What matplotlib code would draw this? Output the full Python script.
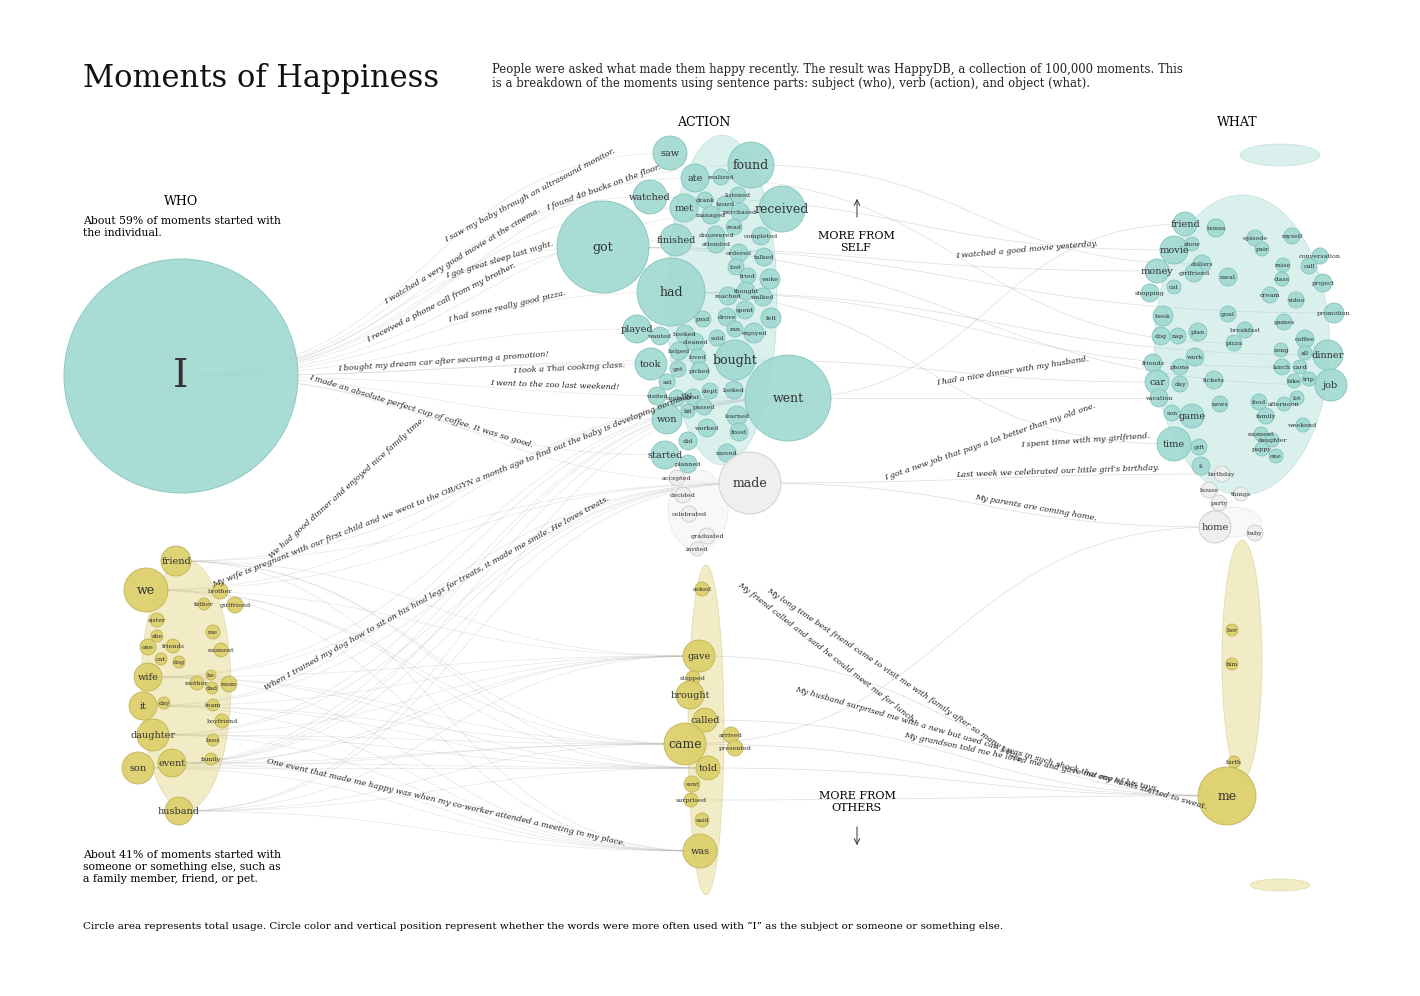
import matplotlib.pyplot as plt
from matplotlib.patches import Circle, Ellipse
import numpy as np

# ---- data (x, y in px of the 1420x996 layout, r = radius px, tone t/w/y) ----
who_words = ['I', 'friend', 'we', 'brother', 'father', 'girlfriend', 'sister', 'she', 'me', 'one',
             'friends', 'moment', 'cat', 'dog', 'wife', 'he', 'mother', 'dad', 'mom', 'day', 'it',
             'team', 'boyfriend', 'daughter', 'boss', 'family', 'event', 'son', 'husband']
who_x = [181, 176, 146, 220, 204, 235, 157, 157, 213, 148, 173, 221, 161, 179, 148, 211, 197, 212, 229,
         164, 143, 213, 222, 153, 213, 211, 172, 138, 179]
who_y = [376, 561, 590, 591, 604, 605, 620, 636, 632, 647, 646, 650, 659, 662, 677, 675, 683, 688, 684,
         703, 706, 705, 721, 735, 740, 759, 763, 768, 811]
who_r = [117, 15, 22, 8, 6, 8, 7, 6, 7, 8, 7, 7, 6, 6, 14, 5, 7, 6, 8, 6, 14, 6, 7, 16, 6, 6, 14, 16, 14]
who_tone = ['t'] + ['y'] * 28

act_words = ['saw', 'found', 'ate', 'realized', 'watched', 'drank', 'listened', 'met', 'heard', 'purchased',
             'received', 'managed', 'got', 'read', 'finished', 'discovered', 'completed', 'attended',
             'ordered', 'talked', 'had', 'lost', 'tried', 'woke', 'thought', 'reached', 'walked', 'spent',
             'paid', 'drove', 'felt', 'played', 'wanted', 'booked', 'sold', 'ran', 'enjoyed', 'cleaned',
             'helped', 'loved', 'bought', 'took', 'get', 'picked', 'sat', 'slept', 'looked', 'visited',
             'cooked', 'beat', 'went', 'passed', 'hit', 'won', 'learned', 'worked', 'fixed', 'did', 'moved',
             'started', 'planned', 'made', 'accepted', 'decided', 'celebrated', 'graduated', 'invited',
             'asked', 'gave', 'stopped', 'brought', 'called', 'arrived', 'came', 'presented', 'told',
             'sent', 'surprised', 'said', 'was']
act_x = [670, 751, 695, 721, 650, 705, 738, 684, 725, 740, 782, 711, 603, 734, 676, 716, 761, 716, 739, 764,
         671, 736, 748, 770, 746, 728, 763, 745, 703, 727, 771, 637, 660, 685, 717, 735, 754, 695, 679, 698,
         735, 651, 678, 700, 667, 710, 734, 657, 677, 693, 788, 704, 688, 667, 737, 707, 739, 688, 727, 665,
         688, 750, 677, 683, 689, 707, 697, 702, 699, 693, 690, 705, 731, 685, 735, 708, 692, 691, 702, 700]
act_y = [153, 165, 178, 177, 197, 200, 195, 208, 204, 212, 209, 215, 247, 227, 240, 235, 236, 244, 253, 257,
         292, 267, 276, 279, 291, 296, 297, 310, 319, 317, 318, 329, 336, 334, 338, 329, 333, 342, 351, 357,
         360, 364, 369, 371, 382, 391, 390, 396, 398, 397, 398, 407, 411, 419, 416, 428, 432, 441, 453, 455,
         464, 483, 478, 495, 514, 536, 549, 589, 656, 678, 695, 720, 735, 744, 748, 768, 784, 800, 820, 851]
act_r = [17, 23, 14, 8, 17, 8, 8, 14, 8, 9, 23, 9, 46, 8, 16, 9, 9, 9, 9, 9,
         34, 8, 8, 10, 9, 9, 9, 9, 8, 9, 10, 14, 9, 9, 8, 8, 10, 9, 9, 8,
         20, 16, 8, 9, 8, 8, 9, 9, 8, 8, 43, 8, 7, 15, 10, 9, 9, 9, 9, 14,
         9, 31, 8, 8, 8, 8, 7, 7, 16, 7, 14, 12, 8, 21, 8, 12, 8, 7, 7, 17]
act_tone = ['t'] * 61 + ['w'] * 6 + ['y'] * 13

what_words = ['friend', 'bonus', 'episode', 'myself', 'movie', 'show', 'pair', 'conversation', 'dollars',
              'call', 'girlfriend', 'money', 'meal', 'raise', 'class', 'project', 'cat', 'cream', 'shopping',
              'video', 'book', 'goal', 'promotion', 'games', 'dog', 'nap', 'plan', 'breakfast', 'coffee',
              'pizza', 'song', 'all', 'dinner', 'friends', 'work', 'phone', 'lunch', 'card', 'car', 'day',
              'tickets', 'bike', 'trip', 'job', 'vacation', 'lot', 'news', 'food', 'afternoon', 'son', 'game',
              'family', 'weekend', 'moment', 'daughter', 'time', 'puppy', 'gift', 'one', 'it', 'birthday',
              'house', 'things', 'party', 'home', 'baby', 'her', 'him', 'birth', 'me']
what_x = [1185, 1216, 1255, 1292, 1174, 1192, 1262, 1320, 1202, 1309, 1194, 1157, 1228, 1283, 1282, 1323,
          1174, 1270, 1150, 1296, 1163, 1228, 1334, 1284, 1161, 1178, 1198, 1245, 1305, 1234, 1281, 1305,
          1328, 1153, 1195, 1180, 1282, 1300, 1157, 1180, 1214, 1294, 1309, 1331, 1159, 1297, 1220, 1259,
          1284, 1172, 1192, 1266, 1303, 1261, 1272, 1174, 1262, 1199, 1276, 1201, 1222, 1209, 1241, 1219,
          1215, 1255, 1232, 1232, 1234, 1227]
what_y = [224, 228, 238, 236, 250, 244, 249, 256, 264, 266, 273, 271, 277, 265, 279, 283, 287, 295, 293, 300,
          316, 314, 313, 322, 336, 336, 332, 330, 339, 343, 350, 353, 355, 363, 357, 367, 367, 367, 382, 384,
          380, 381, 379, 385, 398, 398, 404, 402, 404, 413, 416, 416, 425, 434, 440, 444, 449, 447, 456, 466,
          474, 490, 494, 503, 527, 533, 630, 664, 762, 796]
what_r = [12, 9, 8, 8, 14, 7, 7, 8, 9, 8, 9, 12, 9, 7, 7, 9, 7, 8, 9, 8, 10, 8, 10, 8, 9, 8, 9, 8, 9, 8,
          7, 7, 15, 9, 9, 8, 8, 7, 12, 8, 9, 7, 7, 16, 9, 7, 8, 8, 7, 8, 12, 8, 7, 7, 7, 17, 7, 8, 7, 9,
          8, 8, 7, 8, 16, 8, 6, 6, 6, 29]
what_tone = ['t'] * 60 + ['w'] * 6 + ['y'] * 4

# unlabeled masses of small circles: x, y, width, height, tone
mass_x = [722, 698, 706, 1242, 1280, 1232, 1242, 186, 1280]
mass_y = [300, 510, 730, 345, 155, 522, 660, 685, 885]
mass_w = [110, 60, 36, 175, 80, 60, 40, 90, 60]
mass_h = [330, 80, 330, 300, 22, 30, 240, 250, 12]
mass_tone = ['t', 'w', 'y', 't', 't', 'w', 'y', 'y', 'y']

# links: who -> action, action -> what
links_a = [('I', w) for w in ['saw', 'found', 'watched', 'got', 'received', 'had', 'bought', 'took',
                              'went', 'made', 'won', 'started', 'ate', 'met', 'finished', 'played']] + \
          [(s, t) for s in ['we', 'wife', 'son', 'husband', 'event', 'daughter', 'it', 'friend']
           for t in ['came', 'gave', 'was', 'told', 'made', 'went']]
links_b = [('watched', 'movie'), ('had', 'dinner'), ('got', 'job'), ('had', 'time'), ('made', 'birthday'),
           ('came', 'home'), ('came', 'me'), ('called', 'me'), ('told', 'me'), ('surprised', 'me'),
           ('went', 'friend'), ('got', 'money'), ('bought', 'car'), ('found', 'dollars'), ('got', 'promotion'),
           ('ate', 'pizza'), ('went', 'vacation'), ('made', 'home'), ('had', 'lunch'), ('gave', 'me')]

quotes = ["I saw my baby through an ultrasound monitor.", "I watched a very good movie at the cinema.",
          "I found 40 bucks on the floor.", "I got great sleep last night.",
          "I received a phone call from my brother.", "I had some really good pizza.",
          "I bought my dream car after securing a promotion!", "I took a Thai cooking class.",
          "I went to the zoo last weekend!", "I made an absolute perfect cup of coffee. It was so good.",
          "We had good dinner and enjoyed nice family time.",
          "My wife is pregnant with our first child and we went to the OB/GYN a month ago to find out the baby is developing normally.",
          "When I trained my dog how to sit on his hind legs for treats, it made me smile. He loves treats.",
          "One event that made me happy was when my co-worker attended a meeting in my place.",
          "I watched a good movie yesterday.", "I had a nice dinner with my husband.",
          "I got a new job that pays a lot better than my old one.", "I spent time with my girlfriend.",
          "Last week we celebrated our little girl's birthday.", "My parents are coming home.",
          "My long time best friend came to visit me with family after so many years.",
          "My friend called and said he could meet me for lunch.",
          "My grandson told me he loved me and gave me one of his toys.",
          "My husband surprised me with a new but used car. I was in such shock that my hands started to sweat."]
quote_x = [530, 462, 604, 500, 441, 507, 443, 569, 555, 421, 347, 453, 437, 446, 1027, 1013, 990, 1086, 1058,
           1036, 895, 827, 1031, 1001]
quote_y = [195, 256, 188, 260, 303, 307, 362, 368, 385, 411, 488, 490, 593, 802, 250, 371, 442, 440, 471,
           508, 676, 653, 762, 748]
quote_ang = [28, 31, 20, 17, 27, 13, 4, 3, -2, -17, 42, 21.7, 29, -13, 5, 9, 19, 4, 2, -10, -34, -38, -12, -16]

face = {'t': '#a3dad3', 'w': '#efefef', 'y': '#ddd06e'}
edge = {'t': '#7fc2ba', 'w': '#c8c8c8', 'y': '#bfb150'}
serif = 'DejaVu Serif'

fig = plt.figure(figsize=(14.2, 9.96), dpi=100)
ax = fig.add_axes([0, 0, 1, 1])
ax.set_xlim(0, 1420)
ax.set_ylim(996, 0)
ax.axis('off')

pos = {}
for grp, (W, X, Y) in {'who': (who_words, who_x, who_y), 'act': (act_words, act_x, act_y),
                       'what': (what_words, what_x, what_y)}.items():
    for w, x, y in zip(W, X, Y):
        pos[(grp, w)] = (x, y)


def curve(p0, p1, color, lw, alpha):
    t = np.linspace(0, 1, 60)
    c0 = ((p0[0] + p1[0]) / 2, p0[1])
    c1 = ((p0[0] + p1[0]) / 2, p1[1])
    xs = (1-t)**3*p0[0] + 3*(1-t)**2*t*c0[0] + 3*(1-t)*t**2*c1[0] + t**3*p1[0]
    ys = (1-t)**3*p0[1] + 3*(1-t)**2*t*c0[1] + 3*(1-t)*t**2*c1[1] + t**3*p1[1]
    ax.plot(xs, ys, color=color, lw=lw, alpha=alpha, zorder=1)


for s, t in links_a:
    curve(pos[('who', s)], pos[('act', t)], '#aaaaaa', 0.5, 0.3)
for s, t in links_b:
    curve(pos[('act', s)], pos[('what', t)], '#aaaaaa', 0.5, 0.4)

for x, y, w, h, tn in zip(mass_x, mass_y, mass_w, mass_h, mass_tone):
    ax.add_patch(Ellipse((x, y), w, h, facecolor=face[tn], edgecolor=edge[tn], lw=0.5, alpha=0.4, zorder=2))

for W, X, Y, R, T in [(who_words, who_x, who_y, who_r, who_tone), (act_words, act_x, act_y, act_r, act_tone),
                      (what_words, what_x, what_y, what_r, what_tone)]:
    for w, x, y, r, tn in zip(W, X, Y, R, T):
        ax.add_patch(Circle((x, y), r, facecolor=face[tn], edgecolor=edge[tn], lw=0.6, alpha=0.95, zorder=3))
        fs = 28 if r > 100 else (9 if r >= 20 else (7 if r >= 12 else 4.6))
        ax.text(x, y, w, ha='center', va='center', fontsize=fs, family=serif, color='#333333', zorder=4)

for q, x, y, a in zip(quotes, quote_x, quote_y, quote_ang):
    ax.text(x, y, q, ha='center', va='center', rotation=a, rotation_mode='anchor', fontsize=5.9,
            family=serif, style='italic', color='#222222', zorder=5)

ax.text(83, 78, 'Moments of Happiness', fontsize=22, family=serif, va='center', color='#111111')
ax.text(492, 76, 'People were asked what made them happy recently. The result was HappyDB, a collection of 100,000 moments. This\n'
        'is a breakdown of the moments using sentence parts: subject (who), verb (action), and object (what).',
        fontsize=8.4, family=serif, va='center', linespacing=1.1, color='#222222')
ax.text(181, 201, 'WHO', fontsize=9, family=serif, ha='center', va='center')
ax.text(83, 227, 'About 59% of moments started with\nthe individual.', fontsize=7.8, family=serif, va='center')
ax.text(704, 122, 'ACTION', fontsize=9, family=serif, ha='center', va='center')
ax.text(1237, 122, 'WHAT', fontsize=9, family=serif, ha='center', va='center')
ax.text(856, 242, 'MORE FROM\nSELF', fontsize=8, family=serif, ha='center', va='center')
ax.annotate('', xy=(857, 196), xytext=(857, 220), arrowprops=dict(arrowstyle='->', lw=0.7, color='#333333'))
ax.text(857, 802, 'MORE FROM\nOTHERS', fontsize=8, family=serif, ha='center', va='center')
ax.annotate('', xy=(857, 848), xytext=(857, 824), arrowprops=dict(arrowstyle='->', lw=0.7, color='#333333'))
ax.text(83, 867, 'About 41% of moments started with\nsomeone or something else, such as\na family member, friend, or pet.',
        fontsize=7.8, family=serif, va='center', linespacing=1.25)
ax.text(83, 926, 'Circle area represents total usage. Circle color and vertical position represent whether the words '
        'were more often used with \u201cI\u201d as the subject or someone or something else.',
        fontsize=7.5, family=serif, va='center')

fig.savefig('out.png', dpi=100, facecolor='white')
